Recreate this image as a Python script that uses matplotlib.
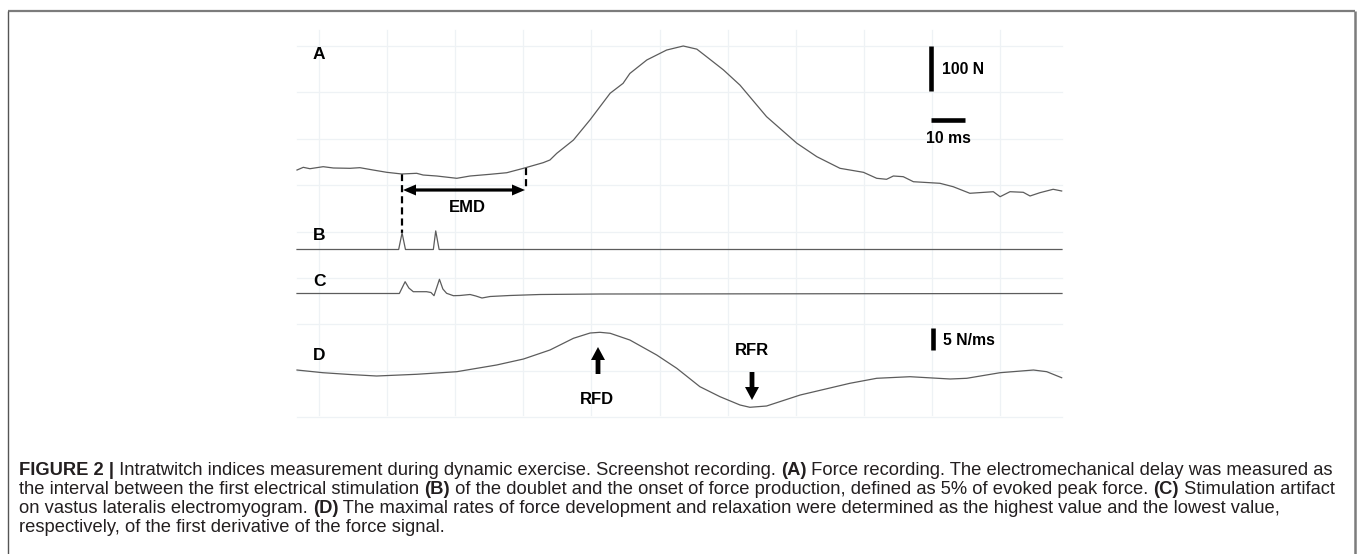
import matplotlib
matplotlib.use("Agg")
import matplotlib.pyplot as plt

W, H = 1357, 554
DPI = 100

# ---------------- data ----------------
# A: force (N) vs time (ms)
t_force = [0, 1.85, 3.8, 7.7, 10.7, 15.6, 18.5, 22.4, 26.4, 30.8, 35.2, 37.1, 41.1,
           47.0, 50.9, 56.8, 61.7, 66.6, 72.4, 74.4, 76.4, 81.3, 86.2, 89.1, 92.1,
           95.9, 97.9, 102.9, 105.8, 108.7, 113.6, 117.6, 120.5, 125.4, 130.3,
           138.1, 147.0, 152.9, 159.7, 166.6, 170.5, 173.4, 175.4, 178.3, 181.3,
           189.1, 193.0, 197.9, 204.8, 206.8, 209.7, 213.6, 215.6, 218.5, 222.4, 224.9]
force = [44.4, 50.4, 47.3, 51.8, 48.9, 48.2, 49.6, 44.4, 39.3, 35.6, 37.1, 33.3, 31.1,
         26.0, 31.1, 34.9, 38.4, 48.2, 60.7, 66.7, 81.5, 111, 156, 185, 215,
         237, 259, 289, 300, 311, 320, 313, 296, 267, 233,
         163, 104, 74, 48.2, 39.3, 26.0, 23.8, 31.1, 29.6, 18.4,
         14.9, 7.3, -7.3, -3.8, -14.9, -3.8, -5.1, -13.3, -6.0, 1.6, -2.2]

# B: stimulation trigger (a.u.)
t_stim = [0, 29.9, 30.9, 31.9, 40.1, 40.8, 41.8, 225]
stim = [0, 0, 1.66, 0, 0, 1.86, 0, 0]

# C: vastus lateralis EMG (a.u.)
t_emg = [0, 30.1, 31.8, 32.9, 34.2, 38.1, 39.4, 40.3, 41.9, 42.9, 44.0, 46.0,
         47.9, 50.9, 52.6, 54.4, 56.8, 62.6, 71.5, 89.1, 225]
emg = [0, 0, 1.18, 0.55, 0.18, 0.18, 0.10, -0.22, 1.42, 0.45, 0.02, -0.22,
       -0.20, -0.10, -0.25, -0.45, -0.30, -0.20, -0.10, -0.05, 0]

# D: first derivative of force (N/ms)
t_deriv = [0, 7.6, 15.6, 23.4, 35.2, 47.0, 58.7, 66.6, 74.4, 81.3, 86.2, 89.1, 92.1,
           97.9, 105.8, 111.7, 118.5, 124.4, 130.3, 133.2, 138.1, 148.0, 162.6,
           170.5, 180.3, 192.1, 197.0, 206.8, 216.6, 220.5, 224.9]
deriv = [0.45, -0.16, -0.57, -0.91, -0.52, 0.07, 1.59, 2.95, 5.0, 7.66, 8.86, 9.02, 8.80,
         7.27, 3.86, 0.84, -3.34, -5.61, -7.5, -8.02, -7.73, -5.23, -2.57,
         -1.43, -1.07, -1.59, -1.43, -0.16, 0.45, 0.07, -1.30]

panel_labels = ["A", "B", "C", "D"]

caption_lines = [
    [("FIGURE 2 |", True), (" Intratwitch indices measurement during dynamic exercise. Screenshot recording. ", False),
     ("(A)", True), (" Force recording. The electromechanical delay was measured as", False)],
    [("the interval between the first electrical stimulation ", False), ("(B)", True),
     (" of the doublet and the onset of force production, defined as 5% of evoked peak force. ", False),
     ("(C)", True), (" Stimulation artifact", False)],
    [("on vastus lateralis electromyogram. ", False), ("(D)", True),
     (" The maximal rates of force development and relaxation were determined as the highest value and the lowest value,", False)],
    [("respectively, of the first derivative of the force signal.", False)],
]

# ---------------- layout ----------------
X0, X1, T_END = 297, 1062, 225      # trace pixel span and time span (ms)
TRACE_COLOR = "#5c5c5c"
LABEL_FONT = "Liberation Sans"

fig = plt.figure(figsize=(W / DPI, H / DPI), dpi=DPI)
fig.patch.set_facecolor("white")

ov = fig.add_axes([0, 0, 1, 1])
ov.set_xlim(0, W)
ov.set_ylim(H, 0)
ov.axis("off")

# faint screenshot grid
for k in range(11):
    gx = 319 + 68.1 * k
    ov.plot([gx, gx], [30, 415], color="#eef2f5", lw=0.9, zorder=0)
for k in range(9):
    gy = 46 + 46.4 * k
    ov.plot([X0, X1], [gy, gy], color="#eef2f5", lw=0.9, zorder=0)

# frame
fc = "#7c7c7c"
ov.plot([8, 1355], [10.5, 10.5], color=fc, lw=1.6, solid_capstyle="butt")
ov.plot([8, 8], [10.5, H], color="#555555", lw=1.0, solid_capstyle="butt")
ov.plot([1355, 1355], [10.5, H], color=fc, lw=1.8, solid_capstyle="butt")


def trace_axes(top_px, bottom_px, zero_px, px_per_unit):
    ax = fig.add_axes([X0 / W, (H - bottom_px) / H, (X1 - X0) / W, (bottom_px - top_px) / H])
    ax.set_xlim(0, T_END)
    ax.set_ylim((zero_px - bottom_px) / px_per_unit, (zero_px - top_px) / px_per_unit)
    ax.axis("off")
    ax.patch.set_alpha(0)
    return ax


axA = trace_axes(20, 200, 190, 0.45)
axB = trace_axes(215, 260, 249.5, 10)
axC = trace_axes(268, 305, 293.5, 10)
axD = trace_axes(320, 415, 372, 4.4)

for ax, t, v in [(axA, t_force, force), (axB, t_stim, stim), (axC, t_emg, emg), (axD, t_deriv, deriv)]:
    ax.plot(t, v, color=TRACE_COLOR, lw=0.9, clip_on=False, solid_joinstyle="round")

# scale bars
axA.plot([186.6, 186.6], [220, 320], color="black", lw=3.3, solid_capstyle="butt", clip_on=False)
axA.plot([186.6, 196.6], [155.6, 155.6], color="black", lw=3.3, solid_capstyle="butt", clip_on=False)
axD.plot([187.1, 187.1], [5, 10], color="black", lw=3.3, solid_capstyle="butt", clip_on=False)

bold = dict(family=LABEL_FONT, fontweight="bold", color="black")


def cap_text(x, yc, s, size, ha="center"):
    # yc = vertical centre of capital letters (pixels)
    cap = 0.72 * size * DPI / 72.0
    ov.text(x, yc + cap / 2, s, fontsize=size, ha=ha, va="baseline", **bold)


for lab, yc in zip(panel_labels, [53, 234, 280, 354]):
    cap_text(319, yc, lab, 12.5)

cap_text(941.5, 68, "100 N", 11.3, ha="left")
cap_text(948, 137, "10 ms", 11.3)
cap_text(943, 339, "5 N/ms", 11.3, ha="left")
cap_text(467, 206, "EMD", 12)
cap_text(597, 398, "RFD", 12)
cap_text(752, 349, "RFR", 12)

# dashed markers for EMD
ov.plot([402, 402], [174, 233], color="black", lw=1.6, ls=(0, (3.2, 1.8)))
ov.plot([526, 526], [168, 188], color="black", lw=1.6, ls=(0, (3.2, 1.8)))

# EMD double arrow
ov.arrow(464, 190, -61, 0, width=3.2, head_width=11, head_length=13,
         length_includes_head=True, color="black", lw=0)
ov.arrow(464, 190, 61, 0, width=3.2, head_width=11, head_length=13,
         length_includes_head=True, color="black", lw=0)
# RFD (up) and RFR (down) arrows
ov.arrow(598, 374, 0, -27, width=4.8, head_width=14, head_length=13,
         length_includes_head=True, color="black", lw=0)
ov.arrow(752, 372, 0, 28, width=4.8, head_width=14, head_length=13,
         length_includes_head=True, color="black", lw=0)

# ---------------- caption ----------------
cap_family = "Liberation Sans"
CAP_COLOR = "#231f20"

fig.canvas.draw()
renderer = fig.canvas.get_renderer()


def adv(s, size, isbold):
    kw = dict(fontsize=size, family=cap_family, fontweight="bold" if isbold else "normal")
    t1 = ov.text(0, 0, "X" + s + "X", **kw)
    t2 = ov.text(0, 0, "XX", **kw)
    w = t1.get_window_extent(renderer).width - t2.get_window_extent(renderer).width
    t1.remove()
    t2.remove()
    return w


w1 = sum(adv(s, 10.0, b) for s, b in caption_lines[0])
cap_size = 10.0 * (1337 - 19) / w1

for line, base in zip(caption_lines, [475, 494, 513, 532]):
    x = 19.0
    for s, b in line:
        ov.text(x, base, s, fontsize=cap_size, family=cap_family,
                fontweight="bold" if b else "normal", color=CAP_COLOR,
                ha="left", va="baseline")
        x += adv(s, cap_size, b)

fig.savefig("out.png", dpi=DPI, facecolor="white")
